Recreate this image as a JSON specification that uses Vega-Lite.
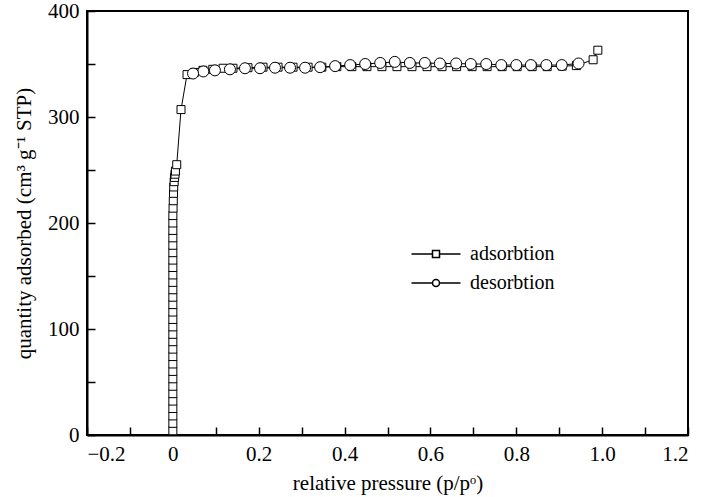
{
  "$schema": "https://vega.github.io/schema/vega-lite/v6.json",
  "width": 601,
  "height": 424,
  "autosize": {"type": "none"},
  "padding": {"left": 87, "top": 11, "right": 16, "bottom": 62},
  "background": "white",
  "config": {
    "view": {"stroke": "black", "strokeWidth": 2},
    "font": "Liberation Serif",
    "axis": {
      "labelFont": "Liberation Serif",
      "titleFont": "Liberation Serif",
      "labelFontSize": 21,
      "titleFontSize": 21,
      "titleFontWeight": "normal",
      "labelColor": "black",
      "titleColor": "black",
      "domainColor": "black",
      "domainWidth": 2,
      "tickColor": "black",
      "tickWidth": 1.5,
      "grid": false
    },
    "legend": {
      "labelFont": "Liberation Serif",
      "labelFontSize": 20,
      "labelColor": "black"
    }
  },
  "data": {
    "values": [
      {"series": "adsorbtion", "i": 1, "p": 0.0, "q": 4},
      {"series": "adsorbtion", "i": 2, "p": 0.0, "q": 11},
      {"series": "adsorbtion", "i": 3, "p": 0.0, "q": 18},
      {"series": "adsorbtion", "i": 4, "p": 0.0, "q": 25},
      {"series": "adsorbtion", "i": 5, "p": 0.0, "q": 32},
      {"series": "adsorbtion", "i": 6, "p": 0.0, "q": 39},
      {"series": "adsorbtion", "i": 7, "p": 0.0, "q": 46},
      {"series": "adsorbtion", "i": 8, "p": 0.0, "q": 53},
      {"series": "adsorbtion", "i": 9, "p": 0.0, "q": 60},
      {"series": "adsorbtion", "i": 10, "p": 0.0, "q": 67},
      {"series": "adsorbtion", "i": 11, "p": 0.0, "q": 74},
      {"series": "adsorbtion", "i": 12, "p": 0.0, "q": 81},
      {"series": "adsorbtion", "i": 13, "p": 0.0, "q": 88},
      {"series": "adsorbtion", "i": 14, "p": 0.0, "q": 95},
      {"series": "adsorbtion", "i": 15, "p": 0.0, "q": 102},
      {"series": "adsorbtion", "i": 16, "p": 0.0, "q": 109},
      {"series": "adsorbtion", "i": 17, "p": 0.0, "q": 116},
      {"series": "adsorbtion", "i": 18, "p": 0.0, "q": 123},
      {"series": "adsorbtion", "i": 19, "p": 0.0, "q": 130},
      {"series": "adsorbtion", "i": 20, "p": 0.0, "q": 137},
      {"series": "adsorbtion", "i": 21, "p": 0.0, "q": 144},
      {"series": "adsorbtion", "i": 22, "p": 0.0, "q": 151},
      {"series": "adsorbtion", "i": 23, "p": 0.0, "q": 158},
      {"series": "adsorbtion", "i": 24, "p": 0.0, "q": 165},
      {"series": "adsorbtion", "i": 25, "p": 0.0, "q": 172},
      {"series": "adsorbtion", "i": 26, "p": 0.0, "q": 179},
      {"series": "adsorbtion", "i": 27, "p": 0.0, "q": 186},
      {"series": "adsorbtion", "i": 28, "p": 0.0, "q": 193},
      {"series": "adsorbtion", "i": 29, "p": 0.0, "q": 200},
      {"series": "adsorbtion", "i": 30, "p": 0.0, "q": 207},
      {"series": "adsorbtion", "i": 31, "p": 0.0005, "q": 214},
      {"series": "adsorbtion", "i": 32, "p": 0.001, "q": 221},
      {"series": "adsorbtion", "i": 33, "p": 0.0015, "q": 228},
      {"series": "adsorbtion", "i": 34, "p": 0.002, "q": 234},
      {"series": "adsorbtion", "i": 35, "p": 0.003, "q": 239},
      {"series": "adsorbtion", "i": 36, "p": 0.004, "q": 243},
      {"series": "adsorbtion", "i": 37, "p": 0.005, "q": 246},
      {"series": "adsorbtion", "i": 38, "p": 0.006, "q": 249},
      {"series": "adsorbtion", "i": 39, "p": 0.009, "q": 255},
      {"series": "adsorbtion", "i": 40, "p": 0.019, "q": 307},
      {"series": "adsorbtion", "i": 41, "p": 0.033, "q": 340},
      {"series": "adsorbtion", "i": 42, "p": 0.05, "q": 342},
      {"series": "adsorbtion", "i": 43, "p": 0.07, "q": 344},
      {"series": "adsorbtion", "i": 44, "p": 0.093, "q": 345},
      {"series": "adsorbtion", "i": 45, "p": 0.117, "q": 346},
      {"series": "adsorbtion", "i": 46, "p": 0.14, "q": 346},
      {"series": "adsorbtion", "i": 47, "p": 0.175, "q": 346.5},
      {"series": "adsorbtion", "i": 48, "p": 0.21, "q": 347},
      {"series": "adsorbtion", "i": 49, "p": 0.245, "q": 347},
      {"series": "adsorbtion", "i": 50, "p": 0.28, "q": 347},
      {"series": "adsorbtion", "i": 51, "p": 0.315, "q": 347},
      {"series": "adsorbtion", "i": 52, "p": 0.347, "q": 347},
      {"series": "adsorbtion", "i": 53, "p": 0.382, "q": 347.5},
      {"series": "adsorbtion", "i": 54, "p": 0.417, "q": 347.5},
      {"series": "adsorbtion", "i": 55, "p": 0.452, "q": 347.5},
      {"series": "adsorbtion", "i": 56, "p": 0.487, "q": 347.5},
      {"series": "adsorbtion", "i": 57, "p": 0.522, "q": 347.5},
      {"series": "adsorbtion", "i": 58, "p": 0.557, "q": 347.5},
      {"series": "adsorbtion", "i": 59, "p": 0.592, "q": 347.5},
      {"series": "adsorbtion", "i": 60, "p": 0.627, "q": 347.5},
      {"series": "adsorbtion", "i": 61, "p": 0.661, "q": 347.5},
      {"series": "adsorbtion", "i": 62, "p": 0.697, "q": 347.5},
      {"series": "adsorbtion", "i": 63, "p": 0.732, "q": 347.5},
      {"series": "adsorbtion", "i": 64, "p": 0.767, "q": 347.5},
      {"series": "adsorbtion", "i": 65, "p": 0.802, "q": 347.5},
      {"series": "adsorbtion", "i": 66, "p": 0.837, "q": 347.5},
      {"series": "adsorbtion", "i": 67, "p": 0.872, "q": 347.5},
      {"series": "adsorbtion", "i": 68, "p": 0.907, "q": 348},
      {"series": "adsorbtion", "i": 69, "p": 0.94, "q": 348.5},
      {"series": "adsorbtion", "i": 70, "p": 0.979, "q": 354},
      {"series": "adsorbtion", "i": 71, "p": 0.99, "q": 363},
      {"series": "desorbtion", "i": 1, "p": 0.945, "q": 350.5},
      {"series": "desorbtion", "i": 2, "p": 0.906, "q": 349},
      {"series": "desorbtion", "i": 3, "p": 0.87, "q": 349},
      {"series": "desorbtion", "i": 4, "p": 0.834, "q": 349},
      {"series": "desorbtion", "i": 5, "p": 0.8, "q": 349},
      {"series": "desorbtion", "i": 6, "p": 0.765, "q": 349},
      {"series": "desorbtion", "i": 7, "p": 0.73, "q": 350},
      {"series": "desorbtion", "i": 8, "p": 0.694, "q": 350},
      {"series": "desorbtion", "i": 9, "p": 0.66, "q": 350.5},
      {"series": "desorbtion", "i": 10, "p": 0.622, "q": 350.5},
      {"series": "desorbtion", "i": 11, "p": 0.587, "q": 351},
      {"series": "desorbtion", "i": 12, "p": 0.552, "q": 351},
      {"series": "desorbtion", "i": 13, "p": 0.517, "q": 352},
      {"series": "desorbtion", "i": 14, "p": 0.483, "q": 351},
      {"series": "desorbtion", "i": 15, "p": 0.448, "q": 350},
      {"series": "desorbtion", "i": 16, "p": 0.413, "q": 349},
      {"series": "desorbtion", "i": 17, "p": 0.378, "q": 348},
      {"series": "desorbtion", "i": 18, "p": 0.343, "q": 347},
      {"series": "desorbtion", "i": 19, "p": 0.308, "q": 346.5},
      {"series": "desorbtion", "i": 20, "p": 0.273, "q": 346.5},
      {"series": "desorbtion", "i": 21, "p": 0.238, "q": 346.5},
      {"series": "desorbtion", "i": 22, "p": 0.203, "q": 346},
      {"series": "desorbtion", "i": 23, "p": 0.168, "q": 346},
      {"series": "desorbtion", "i": 24, "p": 0.133, "q": 345},
      {"series": "desorbtion", "i": 25, "p": 0.098, "q": 344},
      {"series": "desorbtion", "i": 26, "p": 0.071, "q": 343},
      {"series": "desorbtion", "i": 27, "p": 0.047, "q": 341}
    ]
  },
  "encoding": {
    "x": {
      "field": "p",
      "type": "quantitative",
      "scale": {"domain": [-0.2, 1.2], "nice": false, "zero": false},
      "axis": {
        "title": "relative pressure (p/pᵒ)",
        "values": [-0.2, -0.1, 0, 0.1, 0.2, 0.3, 0.4, 0.5, 0.6, 0.7, 0.8, 0.9, 1.0, 1.1, 1.2],
        "labelExpr": "abs(round(datum.value*10)) % 2 == 1 ? '' : (datum.value == 0 ? '0' : replace(format(datum.value, '.1f'), '-', '−'))",
        "tickSize": -8,
        "labelPadding": 16,
        "titlePadding": 8,
        "encode": {"ticks": {"y2": {"value": {"expr": "abs(round(datum.value*10)) % 2 == 0 ? -8 : -4"}}}}
      }
    },
    "y": {
      "field": "q",
      "type": "quantitative",
      "scale": {"domain": [0, 400], "nice": false},
      "axis": {
        "title": "quantity adsorbed (cm³ g⁻¹ STP)",
        "values": [0, 50, 100, 150, 200, 250, 300, 350, 400],
        "labelExpr": "datum.value % 100 == 0 ? format(datum.value, 'd') : ''",
        "tickSize": -8,
        "labelPadding": 16,
        "titlePadding": 13,
        "encode": {"ticks": {"x2": {"value": {"expr": "datum.value % 100 == 0 ? 8 : 4"}}}}
      }
    }
  },
  "layer": [
    {
      "mark": {"type": "line", "color": "black", "strokeWidth": 1},
      "encoding": {
        "detail": {"field": "series"},
        "order": {"field": "i", "type": "quantitative"}
      }
    },
    {
      "transform": [{"filter": "datum.p > 5"}],
      "mark": {"type": "point", "filled": true, "fill": "white", "stroke": "black", "strokeWidth": 1, "opacity": 1, "size": 49},
      "encoding": {
        "shape": {
          "field": "series",
          "type": "nominal",
          "scale": {
            "domain": ["adsorbtion", "desorbtion"],
            "range": ["M-7,0H-1M1,0H7M-1,-1H1V1H-1Z", "M-7,0H-1M1,0H7M-1,0A1,1 0 1,0 1,0A1,1 0 1,0 -1,0Z"]
          },
          "legend": {
            "title": null,
            "orient": "none",
            "legendX": 339,
            "legendY": 233,
            "padding": 0,
            "symbolSize": 49,
            "labelOffset": 24,
            "rowPadding": 9
          }
        }
      }
    },
    {
      "transform": [{"filter": "datum.series == 'adsorbtion'"}],
      "mark": {"type": "point", "shape": "square", "filled": true, "fill": "white", "stroke": "black", "strokeWidth": 1, "opacity": 1, "size": 64}
    },
    {
      "transform": [{"filter": "datum.series == 'desorbtion'"}],
      "mark": {"type": "point", "shape": "circle", "filled": true, "fill": "white", "stroke": "black", "strokeWidth": 1, "opacity": 1, "size": 121}
    }
  ]
}
